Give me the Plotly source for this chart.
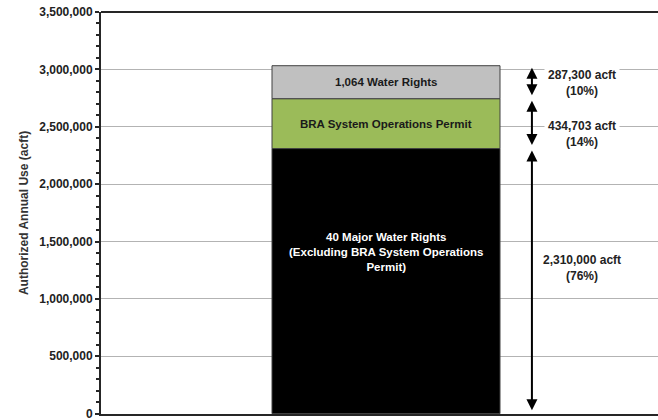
import plotly.graph_objects as go

# Stacked components of authorized annual use (acft)
segments = ["40 Major Water Rights<br>(Excluding BRA System Operations<br>Permit)",
            "BRA System Operations Permit",
            "1,064 Water Rights"]
values = [2310000, 434703, 287300]
colors = ["#000000", "#9bbb59", "#c0c0c0"]
text_colors = ["#ffffff", "#1a1a1a", "#1a1a1a"]
side_labels = ["2,310,000 acft<br>(76%)", "434,703 acft<br>(14%)", "287,300 acft<br>(10%)"]

y_ticks = [0, 500000, 1000000, 1500000, 2000000, 2500000, 3000000, 3500000]

fig = go.Figure()
bases = []
running = 0
for name, v, c in zip(segments, values, colors):
    bases.append(running)
    fig.add_trace(go.Bar(
        x=[0], y=[v], base=[running], width=1, name=name,
        marker=dict(color=c, line=dict(color="#404040", width=1)),
        hoverinfo="skip", showlegend=False,
    ))
    running += v

FONT = "Liberation Sans, Arial, sans-serif"

# Labels inside the bar segments
fig.add_annotation(x=0, y=1407000, text="<b>" + segments[0] + "</b>", showarrow=False,
                   font=dict(family=FONT, size=11.5, color=text_colors[0]))
for i in (1, 2):
    fig.add_annotation(x=0, y=bases[i] + values[i] / 2, text="<b>" + segments[i] + "</b>",
                       showarrow=False, font=dict(family=FONT, size=11.5, color=text_colors[i]))

# Double-headed dimension arrows to the right of the bar
arrow_x = 0.64
for b, v in zip(bases, values):
    fig.add_annotation(x=arrow_x, y=b + v, ax=arrow_x, ay=b, xref="x", yref="y",
                       axref="x", ayref="y", text="", showarrow=True,
                       arrowside="end+start", arrowhead=2, arrowsize=1.1,
                       arrowwidth=2, arrowcolor="#000000", standoff=2, startstandoff=2)

label_pos = [1268000, 2440000, 2883000]
for lab, yp in zip(side_labels, label_pos):
    fig.add_annotation(x=0.86, y=yp, text="<b>" + lab + "</b>", showarrow=False,
                       bgcolor="#ffffff", borderpad=3,
                       font=dict(family=FONT, size=12, color="#222222"))

# Top frame line
fig.add_shape(type="line", xref="paper", yref="paper", x0=0, x1=1, y0=1, y1=1,
              line=dict(color="#262626", width=2))

fig.update_layout(
    width=658, height=420,
    margin=dict(l=101, r=0, t=12, b=6),
    paper_bgcolor="#ffffff", plot_bgcolor="#ffffff",
    barmode="overlay",
    xaxis=dict(range=[-1.25, 1.193], showticklabels=False, showgrid=False,
               zeroline=False, showline=True, linecolor="#262626", linewidth=2,
               ticks="", automargin=False),
    yaxis=dict(range=[-3000, 3500000], tickvals=y_ticks, tickformat=",d",
               ticklabeloverflow="allow", automargin=False,
               showgrid=True, gridcolor="#b3b3b3", gridwidth=1,
               zeroline=False, showline=True, linecolor="#262626", linewidth=2,
               ticks="outside", ticklen=4, tickwidth=1.5, tickcolor="#262626",
               minor=dict(dtick=100000, ticks="outside", ticklen=3, tickwidth=1.5,
                          tickcolor="#262626", showgrid=False),
               tickfont=dict(family=FONT, size=12, color="#222222", weight="bold"),
               title=dict(text="Authorized Annual Use (acft)", standoff=8,
                          font=dict(family=FONT, size=12, color="#333333", weight="bold"))),
)

fig.write_html("out.html")
